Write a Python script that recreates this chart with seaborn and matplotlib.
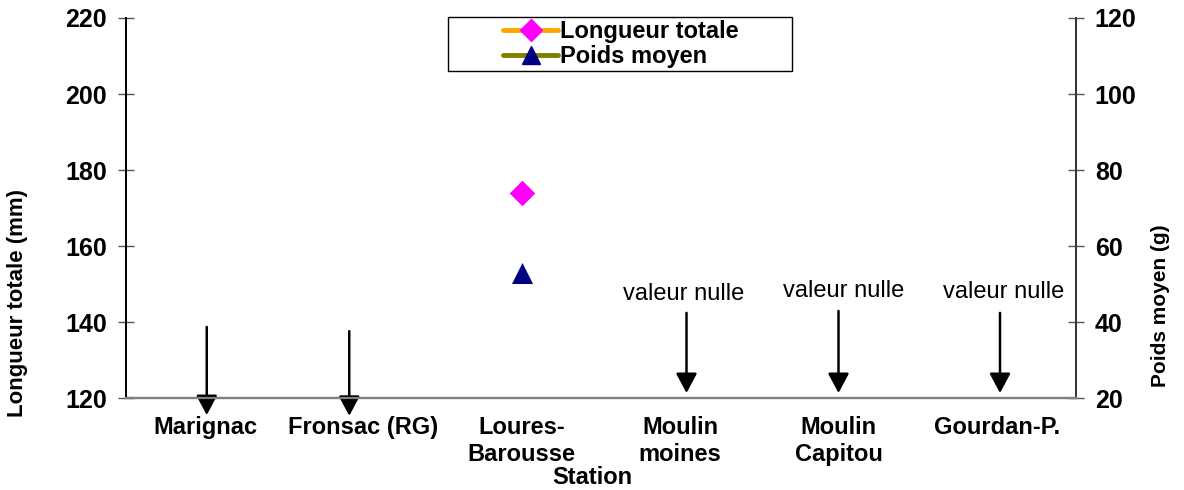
import numpy as np
import pandas as pd
import matplotlib
matplotlib.use("Agg")
import matplotlib.pyplot as plt
from matplotlib.lines import Line2D
from matplotlib.patches import Rectangle
import seaborn as sns

stations = ["Marignac", "Fronsac (RG)", "Loures-\nBarousse", "Moulin\nmoines", "Moulin\nCapitou", "Gourdan-P."]
longueur = [np.nan, np.nan, 174, np.nan, np.nan, np.nan]
poids = [np.nan, np.nan, 53, np.nan, np.nan, np.nan]

sns.set_theme(style="white")
plt.rcParams["font.family"] = ["Liberation Sans", "DejaVu Sans"]
for k in ["text.color", "axes.labelcolor", "xtick.color", "ytick.color"]:
    plt.rcParams[k] = "black"

df = pd.DataFrame({"pos": np.arange(len(stations)), "station": stations,
                   "longueur": longueur, "poids": poids})

W, H = 1184, 490
fig = plt.figure(figsize=(W / 100, H / 100), dpi=100)
ax = fig.add_axes([126 / W, 1 - 398 / H, 950 / W, 380 / H])
ax2 = ax.twinx()

sns.scatterplot(data=df, x="pos", y="longueur", ax=ax, marker="D", s=170,
                color="#FF00FF", edgecolor="#FF00FF", linewidth=0, zorder=5, legend=False)
sns.scatterplot(data=df, x="pos", y="poids", ax=ax2, marker="^", s=230,
                color="#000080", edgecolor="#000080", linewidth=0, zorder=5, legend=False)

ax.set_xlim(-0.5, len(stations) - 0.5)
ax.set_ylim(120, 220)
ax2.set_ylim(20, 120)
ax.set_yticks(np.arange(120, 221, 20))
ax2.set_yticks(np.arange(20, 121, 20))

ax.set_xticks(np.arange(-0.5, len(stations), 1.0))
ax.set_xticklabels([])
ax.set_xticks(np.arange(len(stations)), minor=True)
ax.set_xticklabels(stations, minor=True, fontsize=17, fontweight="bold")
ax.tick_params(axis="x", which="minor", length=0, pad=13)
ax.tick_params(axis="x", which="major", direction="inout", length=11, color="#333333", width=1)
ax.tick_params(axis="y", direction="inout", length=11, color="#555555", width=1, labelsize=18, pad=8)
ax2.tick_params(axis="y", direction="inout", length=11, color="#555555", width=1, labelsize=18, pad=8)
for lab in ax.get_yticklabels() + ax2.get_yticklabels():
    lab.set_fontweight("bold")

for a in (ax, ax2):
    a.spines["top"].set_visible(False)
    a.spines["left"].set_color("#000000")
    a.spines["right"].set_color("#333333")
    a.spines["bottom"].set_color("#808080")
    a.spines["bottom"].set_linewidth(1.6)
    a.grid(False)

ax.set_xlabel("Station", fontsize=17, fontweight="bold", va="center")
ax.xaxis.set_label_coords((592 - 126) / 950, (398 - 477) / 380)
ax.set_ylabel("Longueur totale (mm)", fontsize=16, fontweight="bold", va="center")
ax.yaxis.set_label_coords((18 - 126) / 950, (398 - 303) / 380)
ax2.set_ylabel("Poids moyen (g)", fontsize=15, fontweight="bold", va="center", rotation=90)
ax2.yaxis.set_label_coords((1160 - 126) / 950, (398 - 306) / 380)

arrow_kw = dict(arrowstyle="-|>,head_length=0.6,head_width=0.32", color="black",
                lw=1.8, mutation_scale=20, shrinkA=0, shrinkB=0)
# arrows without text (below axis)
for x, ytop, ytip in [(0.01, 138.7, 115.5), (0.91, 137.6, 115.3)]:
    ax.annotate("", xy=(x, ytip), xytext=(x, ytop), xycoords="data",
                arrowprops=arrow_kw, annotation_clip=False)
# "valeur nulle" arrows
for x, xt, ytop, yt in [(3.04, 3.02, 142.4, 147.4), (4.0, 4.03, 142.9, 148.2), (5.02, 5.04, 142.4, 147.9)]:
    ax.annotate("", xy=(x, 121.3), xytext=(x, ytop), xycoords="data",
                arrowprops=arrow_kw, annotation_clip=False)
    ax.text(xt, yt, "valeur nulle", ha="center", va="center", fontsize=17)

handles = [
    Line2D([0], [0], color="#FFA500", lw=3.5, marker="D", markersize=11,
           markerfacecolor="#FF00FF", markeredgecolor="#FF00FF"),
    Line2D([0], [0], color="#808000", lw=3.5, marker="^", markersize=13,
           markerfacecolor="#000080", markeredgecolor="#000080"),
]
leg = ax2.legend(handles, ["Longueur totale", "Poids moyen"], loc="center",
                 bbox_to_anchor=(621 / W, 1 - 44 / H), bbox_transform=fig.transFigure,
                 frameon=False, prop={"weight": "bold", "size": 17}, handlelength=2.3,
                 labelspacing=0.08, borderpad=0.0, handletextpad=0.1, borderaxespad=0)
fig.patches.append(Rectangle((448 / W, 1 - 71 / H), (792 - 448) / W, (71 - 17) / H,
                             transform=fig.transFigure, fill=False, edgecolor="black",
                             linewidth=1.0, zorder=10))

fig.savefig("out.png", dpi=100)
